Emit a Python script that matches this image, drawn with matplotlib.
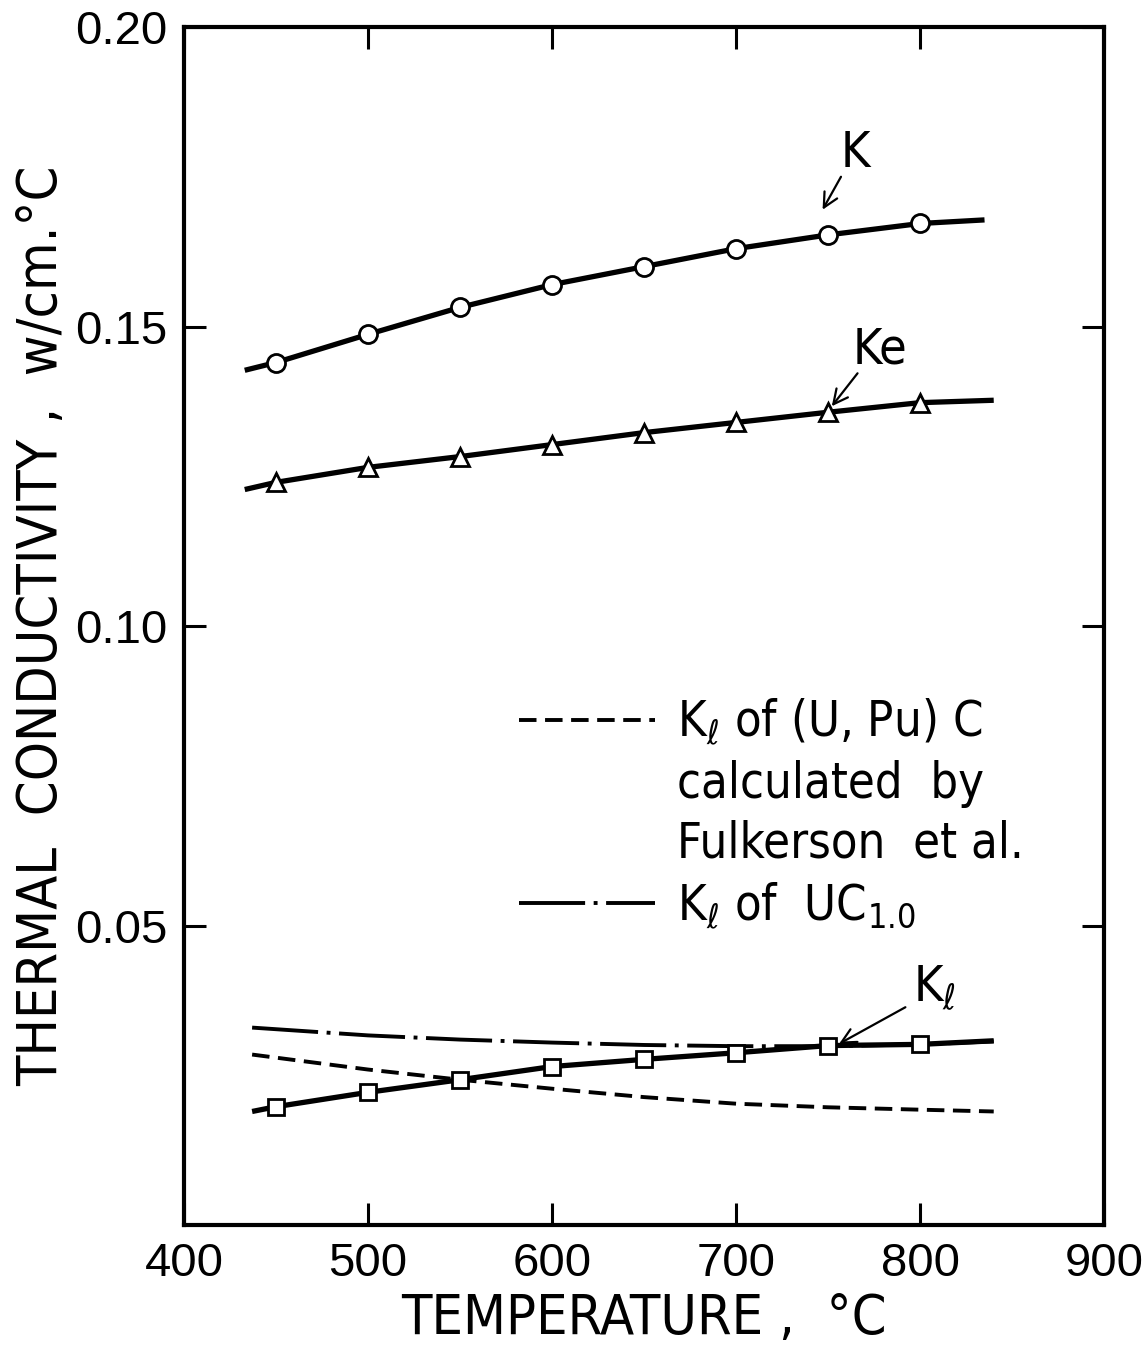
import numpy as np
import matplotlib.pyplot as plt
from matplotlib.lines import Line2D

plt.rcParams["font.family"] = ["DejaVu Sans"]
plt.rcParams["font.stretch"] = "condensed"
plt.rcParams["mathtext.fontset"] = "dejavusans"

# 测点 (温度 °C)
temp_pts = [450, 500, 550, 600, 650, 700, 750, 800]
k_pts = [0.1440, 0.1487, 0.1532, 0.1570, 0.1600, 0.1630, 0.1653, 0.1672]
ke_pts = [0.1240, 0.1265, 0.1283, 0.1303, 0.1323, 0.1340, 0.1357, 0.1373]
kl_pts = [0.0198, 0.0222, 0.0243, 0.0265, 0.0277, 0.0288, 0.0300, 0.0302]

# 拟合曲线
k_line_t = [433, 450, 500, 550, 600, 650, 700, 750, 800, 835]
k_line = [0.1427, 0.1440, 0.1487, 0.1532, 0.1570, 0.1600, 0.1630, 0.1653, 0.1672, 0.1678]
ke_line_t = [433, 450, 500, 550, 600, 650, 700, 750, 800, 840]
ke_line = [0.1228, 0.1240, 0.1265, 0.1283, 0.1303, 0.1323, 0.1340, 0.1357, 0.1373, 0.1377]
kl_line_t = [437, 450, 500, 550, 600, 650, 700, 750, 800, 840]
kl_line = [0.0190, 0.0198, 0.0222, 0.0243, 0.0265, 0.0277, 0.0288, 0.0300, 0.0302, 0.0308]

# Fulkerson (U,Pu)C 与 UC1.0 晶格热导
fulk_t = [437, 500, 550, 600, 650, 700, 750, 800, 840]
fulk_k = [0.0285, 0.0260, 0.0243, 0.0228, 0.0214, 0.0203, 0.0197, 0.0193, 0.0190]
uc_t = [437, 500, 550, 600, 650, 700, 750, 800, 840]
uc_k = [0.0330, 0.0317, 0.0310, 0.0305, 0.0301, 0.0299, 0.0299, 0.0302, 0.0307]

fig = plt.figure(figsize=(11.43, 13.48), dpi=100)
ax = fig.add_axes([0.161, 0.091, 0.805, 0.889])

lw = 3.8
ax.plot(k_line_t, k_line, color='black', lw=lw, solid_capstyle='butt')
ax.plot(ke_line_t, ke_line, color='black', lw=lw, solid_capstyle='butt')
ax.plot(kl_line_t, kl_line, color='black', lw=lw, solid_capstyle='butt')

ax.plot(temp_pts, k_pts, 'o', ms=13, mfc='white', mec='black', mew=2.0, zorder=5)
ax.plot(temp_pts, ke_pts, '^', ms=13, mfc='white', mec='black', mew=2.0, zorder=5)
ax.plot(temp_pts, kl_pts, 's', ms=11, mfc='white', mec='black', mew=2.0, zorder=5)

dash_ls = (0, (4.5, 2.2))
dashdot_ls = (0, (17, 2.2, 1.0, 2.2))
fulk_line, = ax.plot(fulk_t, fulk_k, color='black', lw=2.8, linestyle=dash_ls)
uc_line, = ax.plot(uc_t, uc_k, color='black', lw=2.8, linestyle=dashdot_ls)

# 曲线标注：箭头 + 文字
arrow = dict(arrowstyle='->', color='black', lw=1.6, mutation_scale=26,
             shrinkA=0, shrinkB=0)
ax.annotate('', xy=(747, 0.1695), xytext=(757, 0.1750), arrowprops=arrow)
ax.text(765, 0.1790, 'K', fontsize=36, ha='center', va='center')
ax.annotate('', xy=(752, 0.1367), xytext=(766, 0.1422), arrowprops=arrow)
ax.text(778, 0.1462, 'Ke', fontsize=36, ha='center', va='center')
ax.annotate('', xy=(756, 0.0303), xytext=(792, 0.0364), arrowprops=arrow)
ax.text(808, 0.0395, r'K$_{\ell}$', fontsize=36, ha='center', va='center')

# 图例
blank = Line2D([], [], linestyle='none')
handles = [fulk_line, blank, blank, uc_line]
labels = [r'K$_\ell$ of (U, Pu) C', 'calculated  by', 'Fulkerson  et al.',
          r'K$_\ell$ of  UC$_{1.0}$']
ax.legend(handles, labels, loc='upper left', bbox_to_anchor=(0.364, 0.441),
          frameon=False, fontsize=35, handlelength=2.8, handletextpad=0.45,
          labelspacing=0.25, borderpad=0, borderaxespad=0)

ax.set_xlim(400, 900)
ax.set_ylim(0, 0.20)
ax.set_xticks([400, 500, 600, 700, 800, 900])
ax.set_yticks([0.05, 0.10, 0.15, 0.20])
ax.set_yticklabels(['0.05', '0.10', '0.15', '0.20'])
ax.tick_params(direction='in', length=16, width=2.2, top=True, right=True,
               labelsize=34, pad=12)
for lab in ax.get_xticklabels() + ax.get_yticklabels():
    lab.set_family(['Liberation Sans', 'DejaVu Sans'])
    lab.set_stretch('normal')
for s in ax.spines.values():
    s.set_linewidth(3)

ax.set_xlabel('TEMPERATURE ,  °C', fontsize=40, labelpad=4)
ax.set_ylabel('THERMAL  CONDUCTIVITY ,  w/cm.°C', fontsize=40, labelpad=4)

fig.savefig('out.png', dpi=100)
